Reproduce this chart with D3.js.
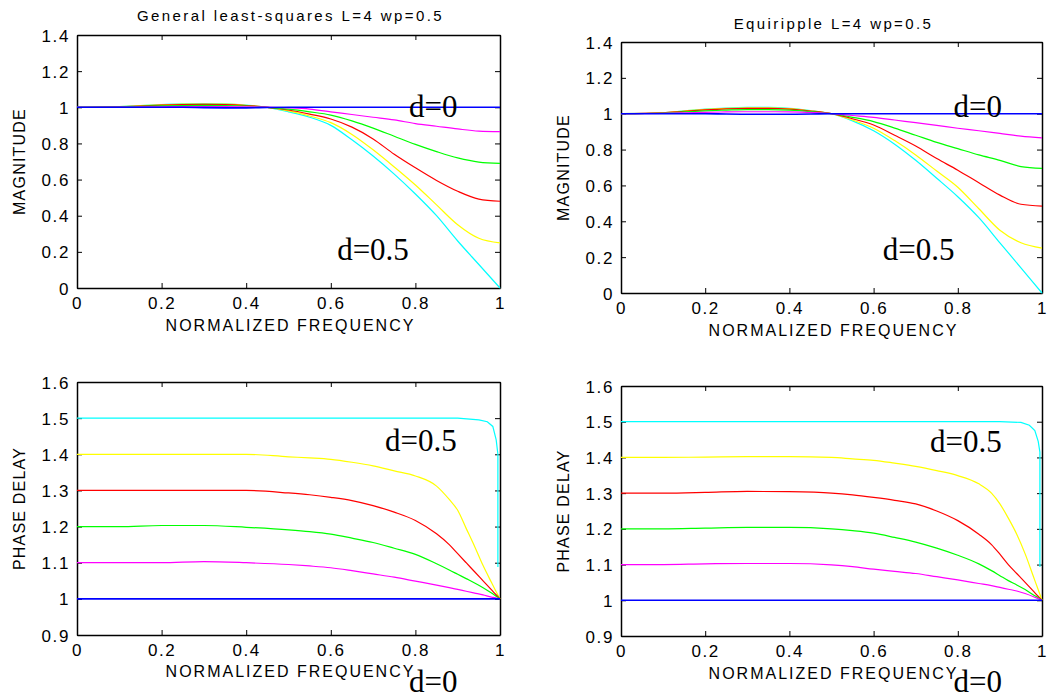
<!DOCTYPE html>
<html>
<head>
<meta charset="utf-8">
<script src="https://cdn.jsdelivr.net/npm/d3@7"></script>
<style>
  body { margin: 0; background: #fff; }
  svg { display: block; }
  .tick text, .lbl { font-family: "Liberation Sans", Arial, sans-serif; fill: #000; }
  .note { font-family: "Liberation Serif", "Times New Roman", serif; font-size: 31px; fill: #000; }
</style>
</head>
<body>
<div id="chart"></div>
<script>
// frequency grids
const magFreq = [0, 0.1, 0.15, 0.2, 0.25, 0.3, 0.35, 0.4, 0.45, 0.5, 0.55, 0.6, 0.65, 0.7, 0.75, 0.8, 0.85, 0.9, 0.95, 1];
const delayFreq = [0, 0.1, 0.2, 0.3, 0.4, 0.5, 0.55, 0.6, 0.65, 0.7, 0.75, 0.8, 0.85, 0.88, 0.9, 0.92, 0.94, 0.96, 0.98, 0.99, 1];
const cyanDelayFreq = [0, 0.5, 0.9, 0.95, 0.97, 0.983, 0.991, 0.995, 0.995];

// general least-squares, magnitude (d = 0 ... 0.5)
const lsMagD0  = [1, 1, 1, 1, 1, 0.998, 0.997, 0.997, 0.999, 1, 1, 1, 1, 1, 1, 1, 1, 1, 1, 1];
const lsMagD1  = [1, 1.001, 1.002, 1.003, 1.004, 1.004, 1.004, 1.003, 1.001, 0.997, 0.99, 0.975, 0.96, 0.945, 0.93, 0.91, 0.895, 0.88, 0.868, 0.865];
const lsMagD2  = [1, 1.002, 1.005, 1.008, 1.01, 1.011, 1.01, 1.007, 1.0, 0.99, 0.975, 0.957, 0.925, 0.885, 0.84, 0.795, 0.755, 0.72, 0.697, 0.69];
const lsMagD3  = [1, 1.003, 1.007, 1.012, 1.015, 1.016, 1.015, 1.01, 1.0, 0.985, 0.962, 0.935, 0.89, 0.825, 0.74, 0.665, 0.595, 0.535, 0.492, 0.48];
const lsMagD4  = [1, 1.004, 1.009, 1.014, 1.017, 1.018, 1.017, 1.011, 1.0, 0.98, 0.952, 0.915, 0.85, 0.765, 0.67, 0.57, 0.46, 0.35, 0.275, 0.25];
const lsMagD5  = [1, 1.004, 1.01, 1.015, 1.019, 1.02, 1.019, 1.012, 1.0, 0.975, 0.945, 0.9, 0.82, 0.73, 0.63, 0.52, 0.4, 0.26, 0.13, 0];

// equiripple, magnitude
const erMagD0  = [1, 1, 1, 1, 0.998, 0.997, 0.997, 0.997, 0.998, 1, 1, 1, 1, 1, 1, 1, 1, 1, 1, 1];
const erMagD1  = [1, 1.002, 1.005, 1.008, 1.01, 1.011, 1.011, 1.01, 1.007, 1.0, 0.99, 0.98, 0.965, 0.95, 0.935, 0.919, 0.905, 0.89, 0.875, 0.865];
const erMagD2  = [1, 1.004, 1.01, 1.016, 1.02, 1.023, 1.023, 1.02, 1.012, 1.0, 0.98, 0.956, 0.92, 0.88, 0.84, 0.805, 0.77, 0.74, 0.705, 0.695];
const erMagD3  = [1, 1.005, 1.013, 1.021, 1.027, 1.03, 1.03, 1.026, 1.015, 1.0, 0.972, 0.937, 0.88, 0.82, 0.75, 0.685, 0.615, 0.546, 0.495, 0.485];
const erMagD4  = [1, 1.006, 1.015, 1.024, 1.03, 1.033, 1.033, 1.028, 1.016, 1.0, 0.965, 0.919, 0.85, 0.77, 0.68, 0.59, 0.47, 0.35, 0.28, 0.25];
const erMagD5  = [1, 1.006, 1.016, 1.026, 1.032, 1.035, 1.035, 1.03, 1.017, 1.0, 0.96, 0.905, 0.83, 0.74, 0.64, 0.537, 0.42, 0.28, 0.14, 0];

// general least-squares, phase delay
const lsDelD0 = [1, 1, 1, 1, 1, 1, 1, 1, 1, 1, 1, 1, 1, 1, 1, 1, 1, 1, 1, 1, 1];
const lsDelD1 = [1.1, 1.1, 1.1, 1.103, 1.1, 1.095, 1.091, 1.086, 1.078, 1.069, 1.06, 1.049, 1.038, 1.031, 1.026, 1.021, 1.016, 1.011, 1.005, 1.003, 1.0];
const lsDelD2 = [1.2, 1.2, 1.203, 1.203, 1.198, 1.191, 1.186, 1.179, 1.168, 1.156, 1.14, 1.123, 1.097, 1.08, 1.068, 1.056, 1.044, 1.031, 1.016, 1.008, 1.0];
const lsDelD3 = [1.3, 1.3, 1.3, 1.3, 1.3, 1.293, 1.288, 1.281, 1.272, 1.258, 1.24, 1.217, 1.18, 1.15, 1.125, 1.1, 1.075, 1.05, 1.025, 1.012, 1.0];
const lsDelD4 = [1.4, 1.4, 1.4, 1.4, 1.4, 1.393, 1.39, 1.386, 1.378, 1.368, 1.354, 1.34, 1.312, 1.275, 1.245, 1.195, 1.145, 1.092, 1.045, 1.022, 1.0];
const lsDelD5 = [1.5, 1.5, 1.5, 1.495, 1.49, 1.477, 1.44, 1.4, 1.088];

// equiripple, phase delay
const erDelD0 = [1, 1, 1, 1, 1, 1, 1, 1, 1, 1, 1, 1, 1, 1, 1, 1, 1, 1, 1, 1, 1];
const erDelD1 = [1.1, 1.1, 1.102, 1.103, 1.103, 1.099, 1.094, 1.087, 1.081, 1.075, 1.066, 1.057, 1.047, 1.041, 1.036, 1.031, 1.026, 1.019, 1.01, 1.005, 1.0];
const erDelD2 = [1.2, 1.2, 1.202, 1.204, 1.204, 1.2, 1.195, 1.188, 1.176, 1.163, 1.146, 1.126, 1.102, 1.083, 1.069, 1.055, 1.043, 1.03, 1.015, 1.008, 1.0];
const erDelD3 = [1.3, 1.3, 1.302, 1.305, 1.304, 1.3, 1.295, 1.288, 1.28, 1.27, 1.25, 1.223, 1.185, 1.156, 1.129, 1.1, 1.075, 1.05, 1.025, 1.012, 1.0];
const erDelD4 = [1.4, 1.4, 1.401, 1.402, 1.402, 1.4, 1.396, 1.392, 1.384, 1.375, 1.363, 1.349, 1.326, 1.3, 1.27, 1.23, 1.185, 1.13, 1.065, 1.033, 1.0];
const erDelD5 = [1.5, 1.5, 1.5, 1.498, 1.49, 1.475, 1.445, 1.415, 1.093];

// ticks
const freqTicks = [0, 0.2, 0.4, 0.6, 0.8, 1];
const magTicks = [0, 0.2, 0.4, 0.6, 0.8, 1, 1.2, 1.4];
const delayTicks = [0.9, 1, 1.1, 1.2, 1.3, 1.4, 1.5, 1.6];

// d = 0, 0.1, ..., 0.5
const curveColors = ["#0000ff", "#ff00ff", "#00ff00", "#ff0000", "#ffff00", "#00ffff"];

const width = 1053, height = 700;
const svg = d3.select("#chart").append("svg")
  .attr("width", width)
  .attr("height", height);

const fmt = d3.format("~g");

function panel(opt) {
  const x = d3.scaleLinear().domain([0, 1]).range([opt.left, opt.right]);
  const y = d3.scaleLinear().domain(opt.yDomain).range([opt.bottom, opt.top]);
  const g = svg.append("g");

  // box with inward ticks on every side
  const tk = 5;
  const axB = g.append("g").attr("transform", `translate(0,${opt.bottom})`)
    .call(d3.axisBottom(x).tickValues(freqTicks).tickFormat(fmt).tickSizeInner(-tk).tickSizeOuter(0).tickPadding(9));
  const axL = g.append("g").attr("transform", `translate(${opt.left},0)`)
    .call(d3.axisLeft(y).tickValues(opt.yTicks).tickFormat(fmt).tickSizeInner(-tk).tickSizeOuter(0).tickPadding(7));
  g.append("g").attr("transform", `translate(0,${opt.top})`)
    .call(d3.axisTop(x).tickValues(freqTicks).tickFormat("").tickSizeInner(-tk).tickSizeOuter(0));
  g.append("g").attr("transform", `translate(${opt.right},0)`)
    .call(d3.axisRight(y).tickValues(opt.yTicks).tickFormat("").tickSizeInner(-tk).tickSizeOuter(0));
  g.selectAll(".domain").attr("stroke", "#000").attr("stroke-width", 1.5);
  g.selectAll(".tick line").attr("stroke", "#000");
  g.selectAll(".tick text").style("font-size", "17px").style("letter-spacing", "1.6px");
  axL.selectAll(".tick text").attr("dy", "0.36em");

  // curves, d=0.5 first so d=0 sits on top
  const line = d3.line().x(d => x(d[0])).y(d => y(d[1]));
  for (let i = opt.series.length - 1; i >= 0; i--) {
    const s = opt.series[i];
    const pts = s.freq.map((f, k) => [f, s.vals[k]]);
    g.append("path")
      .attr("d", line.curve(s.smooth ? d3.curveMonotoneX : d3.curveLinear)(pts))
      .attr("fill", "none")
      .attr("stroke", curveColors[i])
      .attr("stroke-width", i === 0 ? 1.6 : 1.2);
  }

  if (opt.title) {
    g.append("text").attr("class", "lbl")
      .attr("x", (opt.left + opt.right) / 2 + 2).attr("y", opt.titleY)
      .attr("text-anchor", "middle")
      .style("font-size", "15px").style("letter-spacing", "2.4px")
      .text(opt.title);
  }
  g.append("text").attr("class", "lbl")
    .attr("x", (opt.left + opt.right) / 2 + 2).attr("y", opt.xLabelY)
    .attr("text-anchor", "middle")
    .style("font-size", "16px").style("letter-spacing", "2px")
    .text("NORMALIZED FREQUENCY");
  g.append("text").attr("class", "lbl")
    .attr("transform", `translate(${opt.yLabelX},${(opt.top + opt.bottom) / 2}) rotate(-90)`)
    .attr("text-anchor", "middle")
    .style("font-size", "16px").style("letter-spacing", "1.2px")
    .text(opt.yLabel);

  opt.notes.forEach(n => {
    g.append("text").attr("class", "note")
      .attr("x", x(n.f)).attr("y", y(n.v))
      .text(n.text);
  });
}

panel({
  left: 77, right: 500, top: 35, bottom: 288,
  yDomain: [0, 1.4], yTicks: magTicks,
  title: "General least-squares L=4 wp=0.5", titleY: 21,
  xLabelY: 331, yLabelX: 25, yLabel: "MAGNITUDE",
  series: [lsMagD0, lsMagD1, lsMagD2, lsMagD3, lsMagD4, lsMagD5].map(v => ({freq: magFreq, vals: v, smooth: true})),
  notes: [{text: "d=0", f: 0.785, v: 0.946}, {text: "d=0.5", f: 0.615, v: 0.153}]
});

panel({
  left: 621, right: 1042, top: 42, bottom: 293,
  yDomain: [0, 1.4], yTicks: magTicks,
  title: "Equiripple L=4 wp=0.5", titleY: 29,
  xLabelY: 336, yLabelX: 569, yLabel: "MAGNITUDE",
  series: [erMagD0, erMagD1, erMagD2, erMagD3, erMagD4, erMagD5].map(v => ({freq: magFreq, vals: v, smooth: true})),
  notes: [{text: "d=0", f: 0.79, v: 0.982}, {text: "d=0.5", f: 0.622, v: 0.182}]
});

panel({
  left: 77, right: 500, top: 382, bottom: 635,
  yDomain: [0.9, 1.6], yTicks: delayTicks,
  xLabelY: 677, yLabelX: 25, yLabel: "PHASE DELAY",
  series: [lsDelD0, lsDelD1, lsDelD2, lsDelD3, lsDelD4].map(v => ({freq: delayFreq, vals: v, smooth: true}))
    .concat([{freq: cyanDelayFreq, vals: lsDelD5, smooth: false}]),
  notes: [{text: "d=0.5", f: 0.728, v: 1.408}, {text: "d=0", f: 0.785, v: 0.742}]
});

panel({
  left: 621, right: 1042, top: 386, bottom: 636,
  yDomain: [0.9, 1.6], yTicks: delayTicks,
  xLabelY: 679, yLabelX: 569, yLabel: "PHASE DELAY",
  series: [erDelD0, erDelD1, erDelD2, erDelD3, erDelD4].map(v => ({freq: delayFreq, vals: v, smooth: true}))
    .concat([{freq: cyanDelayFreq, vals: erDelD5, smooth: false}]),
  notes: [{text: "d=0.5", f: 0.734, v: 1.415}, {text: "d=0", f: 0.79, v: 0.743}]
});
</script>
</body>
</html>
